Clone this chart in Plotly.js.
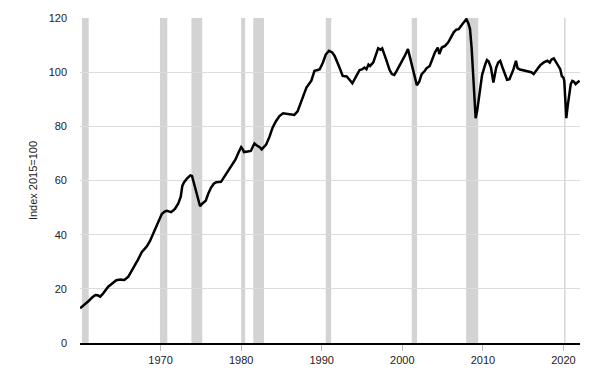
<!DOCTYPE html>
<html>
<head>
<meta charset="utf-8">
<script src="https://cdn.plot.ly/plotly-3.0.1.min.js"></script>
<style>html,body{margin:0;padding:0;background:#fff;}#chart{width:600px;height:380px;}</style>
</head>
<body>
<div id="chart"></div>
<script>
const years = [
1960.0,1960.5,1961.0,1961.5,1961.9,1962.2,1962.5,1962.8,1963.2,1963.5,1964.0,1964.5,1965.0,1965.5,1966.0,1966.4,1966.8,1967.2,1967.66,1968.0,
1968.3,1968.7,1969.1,1969.5,1969.8,1970.15,1970.5,1970.8,1971.1,1971.3,1971.6,1971.8,1972.2,1972.5,1972.7,1972.9,1973.3,1973.7,1973.9,1974.2,
1974.5,1974.9,1975.2,1975.6,1975.9,1976.25,1976.6,1976.9,1977.5,1977.9,1978.3,1978.9,1979.3,1979.7,1980.0,1980.2,1980.35,1980.8,1981.2,1981.5,
1981.65,1982.0,1982.3,1982.55,1982.8,1983.1,1983.5,1983.9,1984.3,1984.75,1985.2,1985.6,1986.2,1986.6,1987.0,1987.3,1987.65,1988.1,1988.7,1989.1,
1989.5,1989.75,1990.15,1990.5,1990.9,1991.3,1991.6,1991.9,1992.2,1992.6,1993.1,1993.5,1993.8,1994.3,1994.7,1995.0,1995.3,1995.55,1995.8,1996.0,
1996.4,1996.6,1997.0,1997.3,1997.5,1998.05,1998.4,1998.7,1999.0,1999.3,1999.9,2000.3,2000.7,2000.9,2001.15,2001.5,2001.8,2002.1,2002.4,2002.8,
2003.0,2003.4,2003.7,2004.05,2004.4,2004.6,2004.9,2005.3,2005.7,2006.1,2006.4,2006.7,2007.0,2007.4,2007.7,2007.95,2008.2,2008.4,2008.6,2008.8,
2009.0,2009.1,2009.3,2009.65,2009.9,2010.3,2010.5,2010.7,2011.0,2011.3,2011.5,2011.65,2011.9,2012.15,2012.4,2012.6,2013.0,2013.3,2013.8,2014.1,
2014.3,2014.6,2015.0,2015.5,2016.0,2016.3,2016.7,2017.1,2017.55,2017.8,2018.0,2018.3,2018.5,2018.8,2019.0,2019.2,2019.6,2019.8,2020.0,2020.1,
2020.25,2020.35,2020.5,2020.7,2020.9,2021.1,2021.3,2021.5,2021.7,2022.0
];
const values = [
12.8,14.0,15.3,16.8,17.7,17.6,17.1,18.0,19.6,20.8,22.0,23.2,23.4,23.3,24.5,26.5,28.9,30.8,33.5,34.8,
35.7,37.8,40.6,43.5,45.8,47.6,48.5,48.8,48.5,48.3,49.0,49.6,51.5,54.0,58.0,59.3,60.8,61.9,61.7,58.5,
54.5,50.5,51.5,52.5,55.0,57.3,58.8,59.4,59.5,61.3,63.4,65.9,67.8,70.5,72.3,71.5,70.5,70.7,70.9,72.8,
73.7,72.8,72.3,71.5,72.2,73.3,76.0,79.5,81.8,83.8,84.8,84.6,84.4,84.2,85.5,88.0,91.2,94.3,96.8,100.5,
100.8,101.1,103.6,106.5,107.9,107.3,106.0,104.0,101.7,98.6,98.4,97.0,95.9,98.6,100.8,101.0,101.7,101.1,102.8,102.3,
103.6,105.4,108.8,108.3,108.8,104.2,101.0,99.3,99.0,100.5,103.6,106.0,108.5,106.0,102.3,98.0,95.2,96.5,99.3,100.5,
101.4,102.3,104.5,107.3,109.1,106.7,109.1,109.7,111.0,113.4,114.8,115.7,115.9,117.5,118.5,119.6,118.0,115.9,109.0,100.0,
88.0,83.0,86.0,93.7,99.0,103.0,104.5,104.0,101.7,96.2,99.5,101.7,103.6,104.2,102.0,100.5,97.2,97.4,101.1,104.2,
101.5,101.0,100.7,100.5,100.0,99.3,101.1,102.5,103.6,103.8,104.2,103.5,104.6,105.1,104.0,103.0,101.1,98.5,98.0,96.8,
88.0,83.0,87.0,91.2,95.6,96.8,96.5,95.6,96.0,96.8
];
// Recession periods (decimal years)
const recStart = [1960.25,1969.92,1973.83,1980.0,1981.5,1990.5,2001.17,2007.92,2020.08];
const recEnd   = [1961.08,1970.83,1975.17,1980.5,1982.83,1991.17,2001.83,2009.42,2020.25];
const xTicks = [1970,1980,1990,2000,2010,2020];
const yTicks = [0,20,40,60,80,100,120];
const yTitle = 'Index 2015=100';

const shapes = recStart.map((s,i)=>({
  type:'rect', xref:'x', yref:'paper', x0:s, x1:recEnd[i], y0:0, y1:1,
  fillcolor:'#d3d3d3', line:{width:0}, layer:'below'
}));

const trace = {
  x: years, y: values, type:'scatter', mode:'lines',
  line:{color:'#000', width:2.5}, hoverinfo:'skip'
};

const layout = {
  width:600, height:380,
  margin:{l:80, r:20, t:18, b:37},
  paper_bgcolor:'#fff', plot_bgcolor:'#fff',
  showlegend:false,
  font:{family:'Liberation Sans, Arial, sans-serif', size:11, color:'#222'},
  shapes: shapes,
  xaxis:{
    range:[1960, 2022.05], tickvals:xTicks, ticktext:xTicks.map(String),
    showgrid:false, zeroline:false,
    showline:true, linecolor:'#000', linewidth:2,
    ticks:'outside', ticklen:6, tickcolor:'#bbb', tickwidth:1,
    tickfont:{size:11, color:'#222'}
  },
  yaxis:{
    range:[0,120], tickvals:yTicks, ticktext:yTicks.map(String),
    showgrid:true, gridcolor:'#dcdcdc', gridwidth:1,
    zeroline:false, showline:false, ticks:'',
    ticklabelstandoff:12,
    tickfont:{size:11, color:'#222'},
    title:{text:yTitle, font:{size:11, color:'#222'}, standoff:8}
  }
};

Plotly.newPlot('chart', [trace], layout, {displayModeBar:false, staticPlot:true});
</script>
</body>
</html>
